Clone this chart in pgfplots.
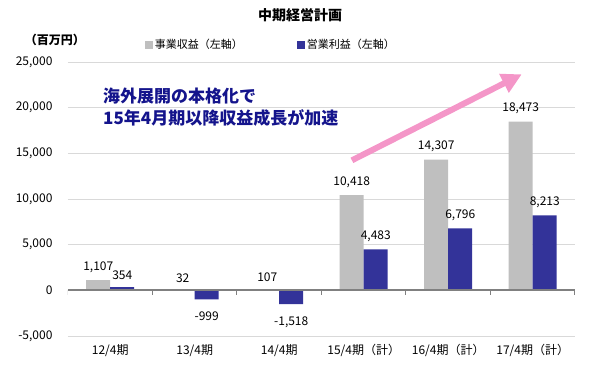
\documentclass[border=0pt]{standalone}
\usepackage{pgfplots}
\pgfplotsset{compat=1.18}
\usepackage{pgfplotstable}
\usepackage{fontspec}
\setmainfont{Noto Sans CJK JP}
\usetikzlibrary{arrows.meta}
\definecolor{barGray}{RGB}{191,191,191}
\definecolor{barBlue}{RGB}{51,51,153}
\definecolor{annBlue}{RGB}{20,20,140}
\definecolor{arrowPink}{RGB}{244,150,200}
\definecolor{gridGray}{RGB}{217,217,217}
\definecolor{axisGray}{RGB}{128,128,128}

\pgfplotstableread{
x rev op
0 1107 354
1 32 -999
2 107 -1518
3 10418 4483
4 14307 6796
5 18473 8213
}\chartdata

\begin{document}
\begin{tikzpicture}
\useasboundingbox (-68pt,-32pt) rectangle (530pt,336pt);
\begin{axis}[
  scale only axis, width=507pt, height=274pt,
  xmin=-0.5, xmax=5.5, ymin=-5000, ymax=25000,
  axis line style={draw=none},
  major tick length=0pt,
  scaled y ticks=false,
  ytick={-5000,0,5000,10000,15000,20000,25000},
  ymajorgrids, grid style={gridGray, line width=0.8pt},
  xtick={0,1,2,3,4,5},
  xticklabels={12/4期,13/4期,14/4期,15/4期（計）,16/4期（計）,17/4期（計）},
  xticklabel style={font=\fontsize{12}{14}\selectfont, yshift=-5pt},
  yticklabel style={font=\fontsize{12}{14}\selectfont, xshift=-12pt},
  ybar, bar width=24pt,
  nodes near coords,
  nodes near coords style={font=\fontsize{12}{14}\selectfont, text=black},
  legend columns=2,
  legend style={at={(0.40,1.062)}, anchor=center, draw=none, fill=none,
    font=\fontsize{11}{13}\selectfont,
    /tikz/every even column/.append style={column sep=52pt}},
  /pgf/number format/1000 sep={,},
  /pgf/number format/assume math mode=true,
]
\addplot[fill=barGray, draw=none, bar shift=-12pt,
  nodes near coords style={yshift=4pt},
  legend image code/.code={\fill[barGray] (0pt,-4pt) rectangle (8pt,4pt);}]
  table[x=x,y=rev]{\chartdata};
\addlegendentry{事業収益（左軸）}
\addplot[fill=barBlue, draw=none, bar shift=12pt,
  visualization depends on={\thisrow{op} \as \rawop},
  nodes near coords style={yshift={ifthenelse(\rawop<0,-9,4)}},
  legend image code/.code={\fill[barBlue] (0pt,-4pt) rectangle (8pt,4pt);}]
  table[x=x,y=op]{\chartdata};
\addlegendentry{営業利益（左軸）}
\draw[axisGray, line width=2pt] (axis cs:-0.5,0) -- (axis cs:5.5,0);
\draw[axisGray, line width=1pt] (axis cs:-0.5,0) -- ++(0pt,-5pt);
\draw[axisGray, line width=1pt] (axis cs:0.5,0) -- ++(0pt,-5pt);
\draw[axisGray, line width=1pt] (axis cs:1.5,0) -- ++(0pt,-5pt);
\draw[axisGray, line width=1pt] (axis cs:2.5,0) -- ++(0pt,-5pt);
\draw[axisGray, line width=1pt] (axis cs:3.5,0) -- ++(0pt,-5pt);
\draw[axisGray, line width=1pt] (axis cs:4.5,0) -- ++(0pt,-5pt);
\draw[axisGray, line width=1pt] (axis cs:5.5,0) -- ++(0pt,-5pt);
\draw[arrowPink, line width=6pt, -{Triangle[length=20pt,width=20pt]}]
  (axis cs:2.86,14234) -- (axis cs:4.87,23650);
\end{axis}
\node[font=\bfseries\fontsize{14}{16}\selectfont] at (232pt,321pt) {中期経営計画};
\node[font=\bfseries\fontsize{12}{14}\selectfont] at (-13pt,296pt) {（百万円）};
\node[anchor=north west, align=left, inner sep=0pt, text=annBlue,
  font=\bfseries\fontsize{17}{22}\selectfont] at (35pt,248pt)
  {海外展開の本格化で\\15年4月期以降収益成長が加速};
\end{tikzpicture}
\end{document}
